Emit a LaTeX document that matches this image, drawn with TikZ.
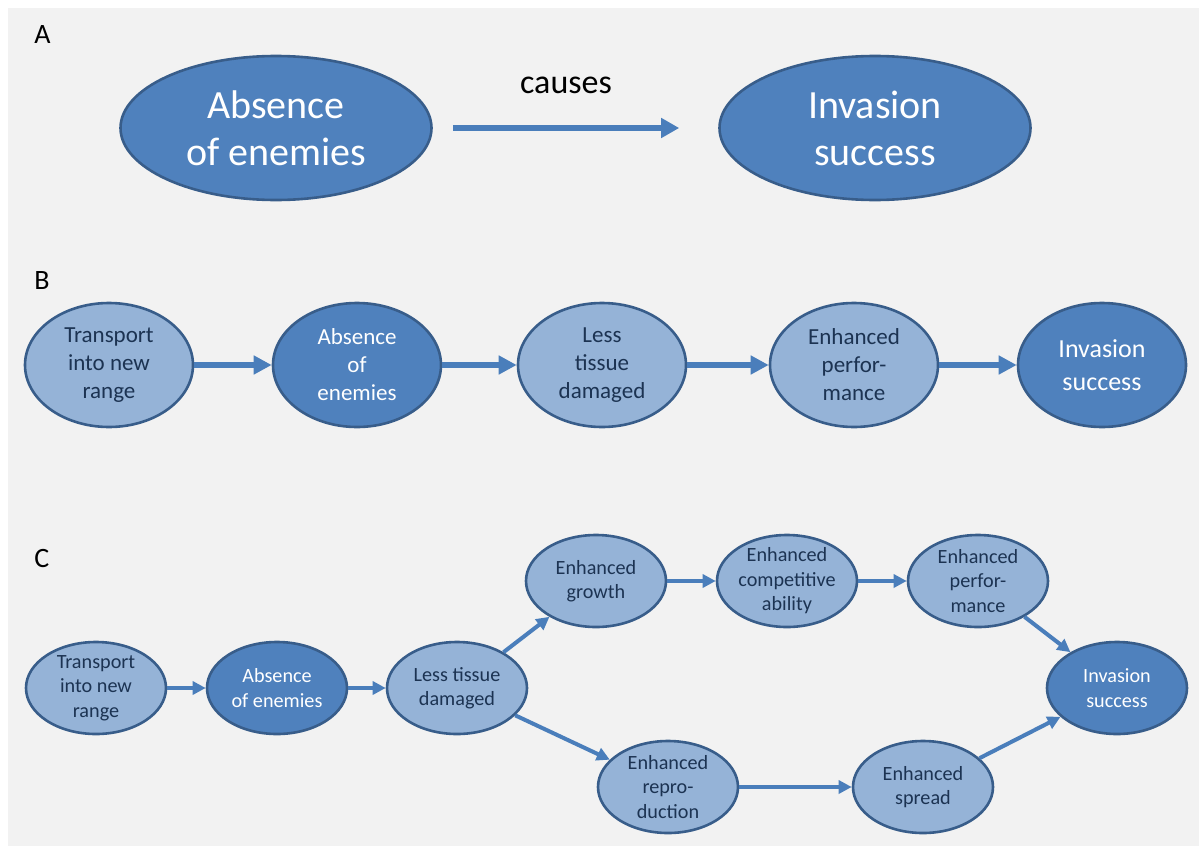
\documentclass[tikz,border=0pt]{standalone}
\usepackage{fontspec}
\setmainfont{Carlito}
\usetikzlibrary{shapes.geometric,arrows.meta}
\definecolor{fon}{HTML}{F2F2F2}
\definecolor{temn}{HTML}{4F81BD}
\definecolor{svet}{HTML}{95B3D7}
\definecolor{kraj}{HTML}{385D8A}
\definecolor{strel}{HTML}{4A7EBB}
\definecolor{tekst}{HTML}{1C3352}

\begin{document}
\begin{tikzpicture}[
        x=0.5pt, y=-0.5pt, % координаты в пикселях
        oval/.style={ellipse, draw=kraj, line width=1.3pt, align=center, inner xsep=0pt, inner ysep=-2pt},
        dark/.style={oval, fill=temn, text=white}, % тёмные узлы
        light/.style={oval, fill=svet, text=tekst}, % светлые узлы
        bigcell/.style={minimum width=155.5pt, minimum height=72pt, font=\fontsize{20}{23.5}\selectfont},
        midcell/.style={minimum width=84pt, minimum height=62pt, font=\fontsize{11.5}{14}\selectfont},
        smallcell/.style={minimum width=70pt, minimum height=46pt, font=\fontsize{10.1}{12.2}\selectfont},
        bigarrow/.style={draw=strel, line width=3pt, -{Triangle[length=9pt,width=9.5pt]}},
        midarrow/.style={draw=strel, line width=2.6pt, -{Triangle[length=9pt,width=9pt]}},
        smallarrow/.style={draw=strel, line width=2pt, -{Triangle[length=6.5pt,width=6.5pt]}},
        letter/.style={font=\fontsize{14}{17}\selectfont, anchor=west, inner sep=0pt},
    ]

    % фон
    \useasboundingbox (0,0) rectangle (1199,846);
    \fill[white] (0,0) rectangle (1199,846);
    \fill[fon] (8,8) rectangle (1199,846);

    % A
    \node[letter] (labA) at (34,35) {A};
    \node[dark, bigcell] (absA) at (276,128) {Absence\\of enemies};
    \node[dark, bigcell] (invA) at (875,128) {Invasion\\success};
    \node[font=\fontsize{17}{20}\selectfont] (causes) at (566,85) {causes};
    \draw[bigarrow, shorten <=10pt, shorten >=19.5pt] (absA) -- (invA);

    % B
    \node[letter] (labB) at (34,281) {B};
    \node[light, midcell] (transB) at (109,365) {Transport\\into new\\range};
    \node[dark, midcell] (absB) at (357,365) {Absence\\of\\enemies};
    \node[light, midcell] (lessB) at (602,365) {Less\\tissue\\damaged};
    \node[light, midcell] (perfB) at (854,365) {Enhanced\\perfor-\\mance};
    \node[dark, midcell, font=\fontsize{13}{16.5}\selectfont] (invB) at (1102,365) {Invasion\\success};
    \draw[midarrow] (transB) -- (absB);
    \draw[midarrow] (absB) -- (lessB);
    \draw[midarrow] (lessB) -- (perfB);
    \draw[midarrow] (perfB) -- (invB);

    % C
    \node[letter] (labC) at (34,559) {C};
    \node[light, smallcell] (transC) at (96,688) {Transport\\into new\\range};
    \node[dark, smallcell] (absC) at (277,688) {Absence\\of enemies};
    \node[light, smallcell] (lessC) at (457,688) {Less tissue\\damaged};
    \node[light, smallcell] (growC) at (596,581) {Enhanced\\growth};
    \node[light, smallcell] (compC) at (787,581) {Enhanced\\competitive\\ability};
    \node[light, smallcell] (perfC) at (978,581) {Enhanced\\perfor-\\mance};
    \node[light, smallcell] (reproC) at (668,787) {Enhanced\\repro-\\duction};
    \node[light, smallcell] (spreadC) at (923,787) {Enhanced\\spread};
    \node[dark, smallcell] (invC) at (1117,688) {Invasion\\success};
    \draw[smallarrow] (transC) -- (absC);
    \draw[smallarrow] (absC) -- (lessC);
    \draw[smallarrow] (lessC) -- (growC);
    \draw[smallarrow] (growC) -- (compC);
    \draw[smallarrow] (compC) -- (perfC);
    \draw[smallarrow] (perfC) -- (invC);
    \draw[smallarrow] (lessC) -- (reproC);
    \draw[smallarrow] (reproC) -- (spreadC);
    \draw[smallarrow] (spreadC) -- (invC);
\end{tikzpicture}
\end{document}
